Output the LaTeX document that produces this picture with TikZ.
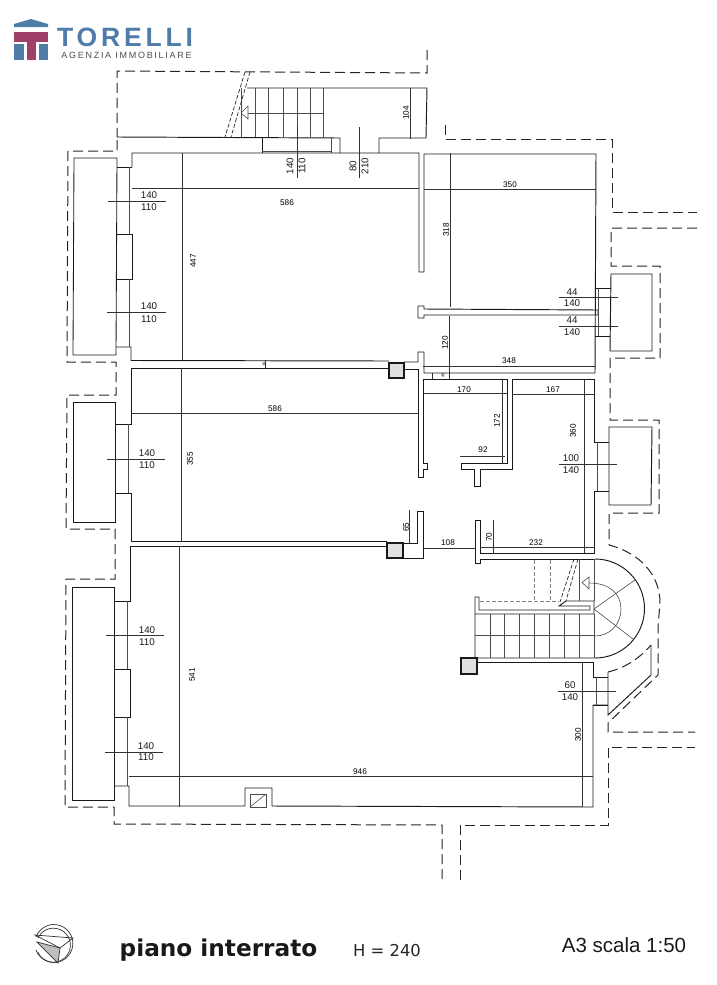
\documentclass[tikz,border=0pt]{standalone}
\usepackage{fontspec}
\setmainfont{Liberation Sans}
\newfontfamily\titlefont{DejaVu Sans}
\usepackage{xcolor}
\definecolor{logoblue}{HTML}{4F7CA8}
\definecolor{logored}{HTML}{A03F68}
\tikzstyle{wall}=[line width=.95pt,black!90]
\tikzstyle{thinwall}=[line width=.6pt,black!70]
\tikzstyle{outline}=[line width=1pt,black!85,dash pattern=on 10pt off 5pt]
\tikzstyle{hidden}=[line width=.4pt,black!50,dash pattern=on 4pt off 2pt]
\tikzstyle{dim}=[line width=.6pt,black!80]
\tikzstyle{column}=[line width=1.8pt,black!90,fill=black!12]
\tikzstyle{size}=[inner sep=0pt,font=\fontsize{8.2}{8}\selectfont,black]
\tikzstyle{vsize}=[size,rotate=90]
\tikzstyle{tiny}=[inner sep=0pt,font=\fontsize{4}{4}\selectfont,black,rotate=90]
\tikzstyle{opening}=[inner sep=0pt,font=\fontsize{9.8}{10}\selectfont,black!90]
\tikzstyle{vopening}=[opening,rotate=90]
\begin{document}
\begin{tikzpicture}[x=1pt,y=-1pt]
\useasboundingbox (0,0) rectangle (717,985);
% logo
\fill [logoblue] (14,24) -- (31,19) -- (48,24) -- (48,27) -- (14,27) -- cycle;
\fill [logored] (14,32) rectangle (48,42);
\fill [logored] (27,42) rectangle (36,60);
\fill [logoblue] (14,44) rectangle (24,60);
\fill [logoblue] (39,44) rectangle (48,60);
\node (logoname) at (125,37.5) [inner sep=0pt,text=logoblue,font=\fontsize{26.5}{27}\bfseries\addfontfeatures{LetterSpace=14.5}] {TORELLI};
\node (logosub) at (126.5,55) [inner sep=0pt,text=black!70,font=\fontsize{9}{9}\selectfont\addfontfeatures{LetterSpace=19}] {AGENZIA IMMOBILIARE};
% outer dashed line
\draw [outline] (427,50) -- (427,73) -- (117,71) -- (117,137);
\draw [outline] (117,140) -- (117,151) -- (68,151) -- (67,362) -- (116,362) -- (116,395) -- (67,395) -- (66,529) -- (115,529) -- (115,579) -- (66,579) -- (65,807) -- (114,807) -- (114,824) -- (442,825) -- (442,880);
\draw [outline] (460,880) -- (460,825) -- (608,825) -- (608,747) -- (695,747);
\draw [outline] (445,125) -- (445,139) -- (612,139) -- (612,212) -- (697,212);
\draw [outline] (697,228) -- (611,228) -- (611,266) -- (660,266) -- (660,358) -- (610,358) -- (610,420) -- (659,420) -- (659,513) -- (609,513) -- (609,545) .. controls (640,553) and (660,575) .. (660,603) -- (658,627) -- (658,675) -- (608,723) -- (608,732) -- (695,732);
\draw [outline] (608,672) .. controls (625,668) and (640,658) .. (651,645);
% top stair
\draw [wall] (117,137) -- (340,138) -- (340,153);
\draw [wall] (262,138) -- (262,153);
\draw [thinwall] (262,151) -- (331,151);
\draw [thinwall] (331,138) -- (331,153);
\draw [wall] (247,88) -- (427,88) -- (426,138) -- (379,138) -- (379,153);
\foreach \t in {241,255,268,283,297,310,323}
  \draw [thinwall] (\t,88) -- (\t,137);
\draw [thinwall] (248,113) -- (323,113);
\draw [thinwall] (241,113) -- (248,106) -- (248,119) -- cycle;
\draw [hidden,black!85,line width=.7pt] (245,72) -- (225,137);
\draw [hidden,black!85,line width=.7pt] (250,72) -- (231,137);
% upper rooms
\draw [wall] (132,167) -- (132,153) -- (419,153) -- (419,272) -- (424,272) -- (424,154) -- (596,154) -- (595,373) -- (424,373) -- (424,352) -- (418,352) -- (418,362) -- (404,362);
\draw [wall] (418,306) -- (424,306) -- (424,309) -- (598,310) -- (598,315) -- (424,315) -- (424,318) -- (418,318) -- cycle;
\draw [wall] (596,288) -- (611,288);
\draw [wall] (595,336) -- (610,336);
\draw [thinwall] (598,288) -- (598,336);
\draw [wall] (611,274) -- (652,274) -- (652,351) -- (610,351) -- cycle;
% left side, first room
\draw [wall,line width=.85pt] (74,158) -- (117,158) -- (116,355) -- (73,355) -- cycle;
\draw [wall] (117,167) -- (132,167);
\draw [wall] (117,234) -- (132,234) -- (132,279) -- (116,279);
\draw [wall] (116,347) -- (131,347) -- (131,360.5) -- (389,361);
\draw [thinwall] (129,167) -- (129,234);
\draw [thinwall] (129,279) -- (129,347);
% left side, second room
\draw [wall,line width=.85pt] (73,402) -- (115,402) -- (115,522) -- (73,522) -- cycle;
\draw [wall] (115,424) -- (131,424) -- (131,368) -- (388,368);
\draw [wall] (115,493) -- (131,493) -- (131,541.5) -- (387,541.5);
\draw [thinwall] (128,424) -- (128,493);
% left side, third room
\draw [wall,line width=.85pt] (72,587) -- (114,587) -- (114,800) -- (72,800) -- cycle;
\draw [wall] (114,601) -- (130,601) -- (130,546.5) -- (387,546.5);
\draw [wall] (114,669) -- (130,669) -- (130,717) -- (114,717);
\draw [wall] (114,786) -- (129,786) -- (129,806) -- (245,806) -- (245,788) -- (272,788) -- (272,806) -- (593,807) -- (593,705) -- (608,705);
\draw [thinwall] (127,601) -- (127,669);
\draw [thinwall] (127,717) -- (127,786);
\draw [thinwall] (250,794) rectangle (266,807);
\draw [thinwall] (250,807) -- (266,794);
% columns
\draw [column] (389,363) rectangle (404,378);
\draw [column] (387,543) rectangle (403,558);
\draw [column] (461,658) rectangle (477,674);
% middle rooms
\draw [wall] (404,369) -- (418,369) -- (418,477) -- (423,477) -- (423,469) -- (427,469) -- (427,463) -- (423,463) -- (423,379) -- (507,379) -- (507,463) -- (461,463) -- (461,469) -- (474,469) -- (474,486) -- (480,486) -- (480,469) -- (512,469) -- (512,379) -- (594,379) -- (594,442) -- (609,442);
\draw [wall] (609,491) -- (594,491) -- (594,553) -- (480,553) -- (480,520) -- (475,520) -- (475,563) -- (480,563) -- (480,559) -- (595,559);
\draw [thinwall] (597,442) -- (597,491);
\draw [wall] (609,427) -- (652,427) -- (651,505) -- (609,505) -- cycle;
\draw [wall] (403,543) -- (417,543) -- (417,511) -- (423,511) -- (423,558) -- (403,558);
% stair with arc
\draw [wall] (595,559) arc [start angle=90,end angle=-90,radius=49.5pt] -- (461,658);
\draw [wall] (477,662) -- (593,662) -- (593,677) -- (608,677);
\draw [wall] (608,672) -- (608,715) -- (651,675) -- (651,645);
\draw [wall] (593,705) -- (608,705);
\draw [thinwall] (596,677) -- (596,705);
\draw [wall] (475,658) -- (475,597) -- (479,597) -- (479,610) -- (590,610) -- (590,606) -- (559,606) -- (566,601) -- (594,601) -- (594,614) -- (475,614);
\foreach \t in {490,504,519,534,549,564,579,594}
  \draw [thinwall] (\t,614) -- (\t,658);
\draw [thinwall] (594,559) -- (594,601);
\draw [thinwall] (475,635) -- (595,635);
\draw [thinwall] (594,609) -- (635,580);
\draw [thinwall] (594,609) -- (633,639);
\draw [thinwall] (589,583) .. controls (610,583) and (621,594) .. (621,609) .. controls (621,624) and (610,636) .. (595,636);
\draw [thinwall] (582,582.5) -- (589,577) -- (589,589) -- cycle;
\draw [thinwall] (579,559) -- (579,601);
\draw [hidden,black!85,line width=.7pt] (574,559) -- (560,602);
\draw [hidden,black!85,line width=.7pt] (578,559) -- (566,601);
\draw [hidden] (480,601) -- (559,601);
\draw [hidden] (534,560) -- (534,601);
\draw [hidden] (550,560) -- (550,601);
% measures
\draw [dim] (410,88) -- (410,139);
\draw [dim] (297,126) -- (297,178);
\draw [dim] (359,127) -- (359,178);
\draw [dim] (132,188) -- (419,188);
\draw [dim] (424,189) -- (596,189);
\draw [dim] (182,153) -- (182,360);
\draw [dim] (181,368) -- (181,541);
\draw [dim] (179,546) -- (179,807);
\draw [dim] (131,413) -- (418,413);
\draw [dim] (129,776) -- (593,776);
\draw [dim] (450,153) -- (450,307);
\draw [dim] (449,316) -- (449,373);
\draw [dim] (423,366) -- (595,366);
\draw [dim] (432,373) -- (432,379);
\draw [dim] (449,373) -- (449,379);
\draw [dim] (424,393) -- (507,393);
\draw [dim] (512,394) -- (594,394);
\draw [dim] (502,379) -- (502,464);
\draw [dim] (460,456) -- (505,456);
\draw [dim] (584,379) -- (584,553);
\draw [dim] (409,510) -- (409,543);
\draw [dim] (423,548) -- (475,548);
\draw [dim] (493,520) -- (493,554);
\draw [dim] (480,547) -- (594,547);
\draw [dim] (582,662) -- (582,807);
\draw [dim] (265,360) -- (265,368);
\draw [dim] (108,201) -- (166,201);
\draw [dim] (107,312) -- (166,312);
\draw [dim] (107,459) -- (165,459);
\draw [dim] (106,635) -- (164,635);
\draw [dim] (105,752) -- (163,752);
\draw [dim] (559,297) -- (618,297);
\draw [dim] (559,326) -- (618,326);
\draw [dim] (559,464) -- (617,464);
\draw [dim] (558,691) -- (616,691);
% measure labels
\node (m104) at (406,113) [vsize] {104};
\node (m586a) at (287,203) [size] {586};
\node (m350) at (510,185) [size] {350};
\node (m447) at (193,261) [vsize] {447};
\node (m318) at (446,230) [vsize] {318};
\node (m120) at (445,343) [vsize] {120};
\node (m348) at (509,361) [size] {348};
\node (m45) at (443,375) [tiny] {45};
\node (m16) at (264,364) [tiny] {16};
\node (m586b) at (275,409) [size] {586};
\node (m170) at (464,390) [size] {170};
\node (m167) at (553,390) [size] {167};
\node (m172) at (497,421) [vsize] {172};
\node (m92) at (483,450) [size] {92};
\node (m360) at (573,431) [vsize] {360};
\node (m355) at (190,459) [vsize] {355};
\node (m65) at (406,527) [vsize] {65};
\node (m108) at (448,543) [size] {108};
\node (m70) at (489,537) [vsize] {70};
\node (m232) at (536,543) [size] {232};
\node (m541) at (192,675) [vsize] {541};
\node (m300) at (578,735) [vsize] {300};
\node (m946) at (360,772) [size] {946};
% opening labels
\node (a1) at (290,166) [vopening] {140};
\node (a2) at (302,166) [vopening] {110};
\node (b1) at (353,166) [vopening] {80};
\node (b2) at (365,166) [vopening] {210};
\node (c1) at (149,195) [opening] {140};
\node (c2) at (149,207) [opening] {110};
\node (d1) at (149,306) [opening] {140};
\node (d2) at (149,319) [opening] {110};
\node (e1) at (147,453) [opening] {140};
\node (e2) at (147,465) [opening] {110};
\node (f1) at (147,630) [opening] {140};
\node (f2) at (147,642) [opening] {110};
\node (g1) at (146,746) [opening] {140};
\node (g2) at (146,757) [opening] {110};
\node (h1) at (572,292) [opening] {44};
\node (h2) at (572,303) [opening] {140};
\node (i1) at (572,320) [opening] {44};
\node (i2) at (572,332) [opening] {140};
\node (j1) at (571,458) [opening] {100};
\node (j2) at (571,470) [opening] {140};
\node (k1) at (570,685) [opening] {60};
\node (k2) at (570,697) [opening] {140};
% compass
\fill [black!25] (37,942) -- (60,948) -- (58,963) -- cycle;
\draw [thinwall,black!80,line width=.7pt] (35,935) -- (73,938) -- (60,948) -- cycle;
\draw [thinwall,black!80,line width=.7pt] (37,942) -- (60,948) -- (58,963) -- cycle;
\draw [thinwall,black!80,line width=.7pt] (36,937) arc [start angle=160,end angle=-160,radius=19pt];
\draw [thinwall,black!80,line width=.7pt] (38,938) arc [start angle=155,end angle=-155,radius=17pt];
% bottom texts
\node (title) at (218.5,950) [inner sep=0pt,font=\titlefont\fontsize{23.2}{24}\bfseries,black!90] {piano interrato};
\node (height) at (387,951) [inner sep=0pt,font=\titlefont\fontsize{16.4}{17}\selectfont,black!85] {H = 240};
\node (scale) at (624,945) [inner sep=0pt,font=\fontsize{20.5}{21}\selectfont,black!90] {A3 scala 1:50};
\end{tikzpicture}
\end{document}
